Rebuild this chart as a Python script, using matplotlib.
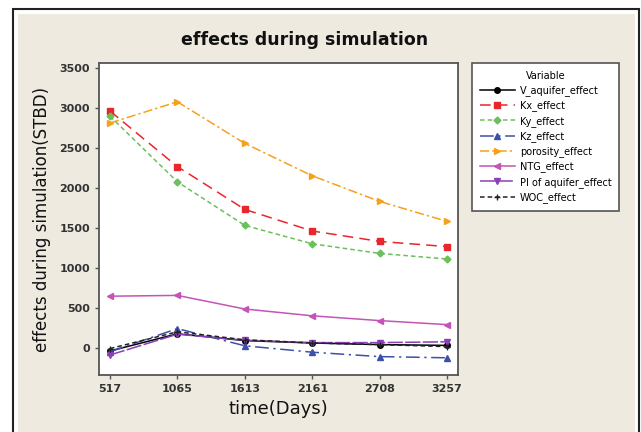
import matplotlib.pyplot as plt
from matplotlib.patches import Rectangle

days = [517, 1065, 1613, 2161, 2708, 3257]

v_aquifer = [-40, 175, 90, 60, 40, 30]
kx = [2960, 2265, 1730, 1460, 1330, 1265]
ky = [2895, 2075, 1530, 1300, 1180, 1110]
kz = [-50, 240, 25, -55, -110, -125]
porosity = [2810, 3075, 2555, 2150, 1830, 1580]
ntg = [645, 655, 485, 400, 340, 290]
pi_aquifer = [-90, 170, 95, 65, 65, 75]
woc = [-10, 200, 100, 60, 40, 15]

fig = plt.figure(figsize=(6.41, 4.32), dpi=100)
fig.patch.set_facecolor('white')

W, H = 641, 432
# outer frame and beige panel, behind the axes
fig.patches.append(Rectangle((12.5 / W, -0.01), (626 / W), (H - 8.5) / H + 0.01, transform=fig.transFigure,
                             facecolor='white', edgecolor='#222222', lw=1.5, zorder=-2))
fig.patches.append(Rectangle((18 / W, 0), (617 / W), (H - 14) / H, transform=fig.transFigure,
                             facecolor='#EEEAE0', edgecolor='none', zorder=-1))

ax = fig.add_axes([99 / W, (H - 375) / H, (458 - 99) / W, (375 - 63) / H])
ax.set_facecolor('white')

ax.plot(days, v_aquifer, color='black', lw=1.1, marker='o', ms=4, label='V_aquifer_effect')
ax.plot(days, kx, color='#E8262B', lw=1.1, ls=(0, (7, 4)), marker='s', ms=4, label='Kx_effect')
ax.plot(days, ky, color='#6CBF5C', lw=1.1, ls=(0, (3, 2)), marker='D', ms=3.5, label='Ky_effect')
ax.plot(days, kz, color='#3D50A8', lw=1.1, ls=(0, (9, 3, 1.5, 3)), marker='^', ms=4.5, label='Kz_effect')
ax.plot(days, porosity, color='#F6A11C', lw=1.1, ls=(0, (6, 2, 1.5, 2)), marker='>', ms=4.5, label='porosity_effect')
ax.plot(days, ntg, color='#C454B6', lw=1.1, marker='<', ms=4.5, label='NTG_effect')
ax.plot(days, pi_aquifer, color='#8B3FB8', lw=1.1, ls=(0, (10, 1.5)), marker='v', ms=4.5, label='PI of aquifer_effect')
ax.plot(days, woc, color='#222222', lw=1.1, ls=(0, (3, 2)), marker='+', ms=5, label='WOC_effect')

ax.set_xlim(428, 3346)
ax.set_ylim(-340, 3560)
ax.set_xticks(days)
ax.set_yticks(range(0, 3501, 500))

for s in ax.spines.values():
    s.set_color('#555555')
    s.set_linewidth(1.3)
ax.tick_params(direction='out', length=3, width=1, color='#555555',
               labelsize=8, labelcolor='#333333')
for t in ax.get_xticklabels() + ax.get_yticklabels():
    t.set_fontweight('bold')

ax.set_xlabel('time(Days)', fontsize=13, labelpad=4, color='#111111')
ax.set_ylabel('effects during simulation(STBD)', fontsize=12, labelpad=6, color='#111111')
fig.text(305 / W, 1 - 40 / H, 'effects during simulation', ha='center', va='center',
         fontsize=12.5, fontweight='bold', color='#111111')

leg = fig.legend(loc='upper left', bbox_to_anchor=(472 / W, 1 - 63 / H),
                 bbox_transform=fig.transFigure, title='Variable', fontsize=7,
                 title_fontsize=7, frameon=True, fancybox=False, framealpha=1,
                 handlelength=3.6, labelspacing=0.45, borderpad=0.8, handletextpad=0.5,
                 borderaxespad=0)
leg.get_frame().set_edgecolor('#555555')
leg.get_frame().set_linewidth(1.2)

fig.savefig('out.png', dpi=100, facecolor=fig.get_facecolor())
